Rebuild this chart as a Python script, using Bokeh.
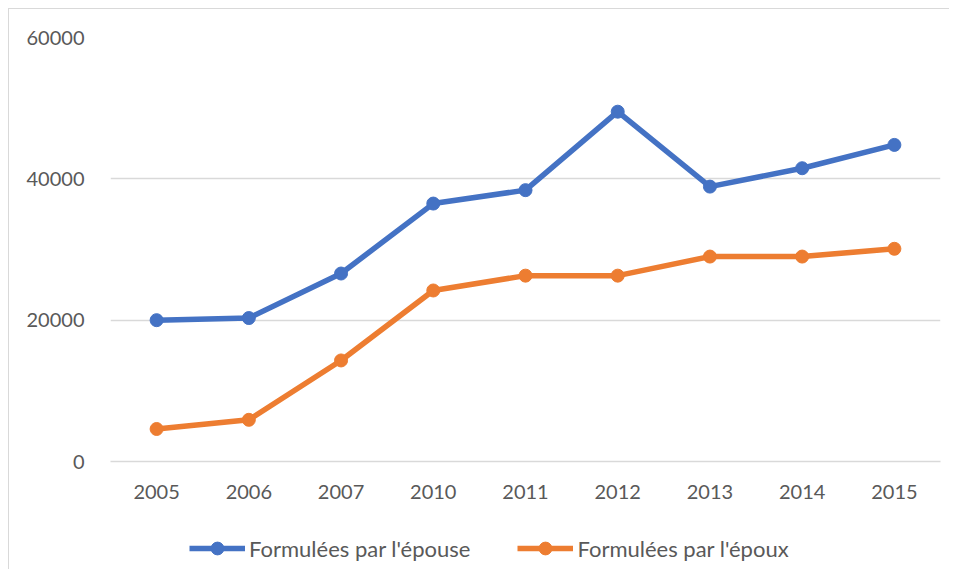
from bokeh.plotting import figure
from bokeh.layouts import column
from bokeh.models import Range1d, FactorRange, Legend, LegendItem, SingleIntervalTicker, NumeralTickFormatter
from bokeh.embed import file_html
from bokeh.resources import INLINE

years = ["2005", "2006", "2007", "2010", "2011", "2012", "2013", "2014", "2015"]
epouse = [20000, 20300, 26600, 36500, 38400, 49500, 38900, 41500, 44800]
epoux = [4600, 5900, 14300, 24200, 26300, 26300, 29000, 29000, 30100]
label_epouse = "Formulées par l'épouse"
label_epoux = "Formulées par l'époux"

BLUE = "#4472C4"
ORANGE = "#ED7D31"
GREY = "#595959"
GRID = "#D9D9D9"
FONT = "Lato"

xr = FactorRange(*years, range_padding=0)
p = figure(width=940, height=512, x_range=xr,
           y_range=Range1d(0, 60000), output_backend="svg", toolbar_location=None,
           min_border_left=101, min_border_right=9, min_border_top=28, min_border_bottom=60)
p.outline_line_color = None

line_style = dict(line_width=5.5)
p.line(years, epouse, line_color=BLUE, **line_style)
p.scatter(years, epouse, size=13, fill_color=BLUE, line_color=BLUE)
p.line(years, epoux, line_color=ORANGE, **line_style)
p.scatter(years, epoux, size=13, fill_color=ORANGE, line_color=ORANGE)

p.yaxis.ticker = SingleIntervalTicker(interval=20000)
p.yaxis.formatter = NumeralTickFormatter(format="0")
p.yaxis.axis_line_color = None
p.yaxis.major_tick_line_color = None
p.yaxis.minor_tick_line_color = None
p.yaxis.major_tick_out = 0
p.yaxis.major_label_standoff = 22
p.xaxis.axis_line_color = GRID
p.xaxis.axis_line_width = 1.5
p.xaxis.major_tick_line_color = None
p.xaxis.major_tick_out = 0
p.xaxis.major_label_standoff = 23
for ax in (p.xaxis, p.yaxis):
    ax.major_label_text_font = FONT
    ax.major_label_text_font_size = "20px"
    ax.major_label_text_color = GREY

p.xgrid.grid_line_color = None
p.ygrid.grid_line_color = GRID
p.ygrid.grid_line_width = 1.5
p.ygrid.ticker = SingleIntervalTicker(interval=20000)

# legend strip below the chart (series drawn again, but far outside its tiny y range, so only the legend shows)
lg = figure(width=940, height=48, x_range=xr, y_range=Range1d(0, 1),
            x_axis_type=None, y_axis_type=None, output_backend="svg", toolbar_location=None,
            min_border_left=0, min_border_right=0, min_border_top=0, min_border_bottom=0)
lg.outline_line_color = None
lb = lg.line(years, epouse, line_color=BLUE, **line_style)
sb = lg.scatter(years, epouse, size=13, fill_color=BLUE, line_color=BLUE)
lo = lg.line(years, epoux, line_color=ORANGE, **line_style)
so = lg.scatter(years, epoux, size=13, fill_color=ORANGE, line_color=ORANGE)

legend = Legend(items=[LegendItem(label=label_epouse, renderers=[lb, sb]),
                       LegendItem(label=label_epoux, renderers=[lo, so])],
                orientation="horizontal", location=(79, 5))
legend.label_text_font = FONT
legend.label_text_font_size = "22px"
legend.label_text_color = GREY
legend.glyph_width = 56
legend.glyph_height = 32
legend.label_height = 20
legend.label_standoff = 4
legend.spacing = 47
legend.border_line_color = None
legend.background_fill_alpha = 0
legend.padding = 0
legend.margin = 0
lg.add_layout(legend, "center")

layout = column(p, lg, spacing=0)
layout.styles = {"margin-left": "8px", "margin-top": "8px",
                 "border-left": "1px solid #D9D9D9", "border-top": "1px solid #D9D9D9"}

open("out.html", "w").write(file_html(layout, INLINE))
